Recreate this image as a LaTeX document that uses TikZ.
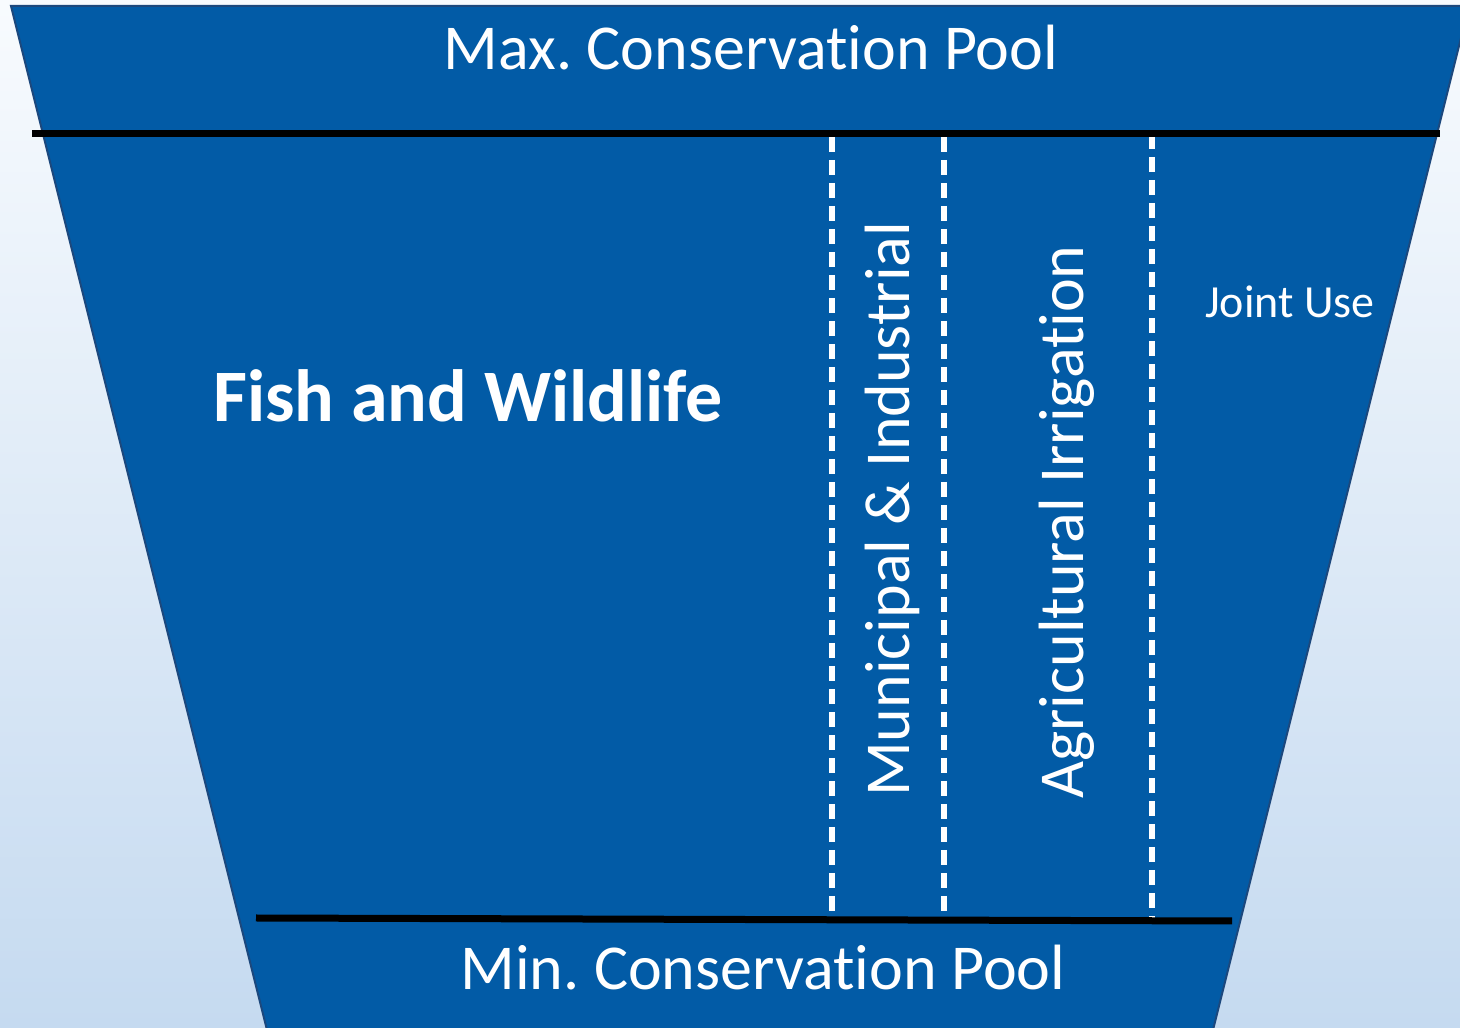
\documentclass[tikz,border=0pt]{standalone}
\usepackage{fontspec}
\setmainfont{Carlito}[Ligatures={NoCommon}]
\definecolor{poolblue}{RGB}{2,91,166}
\definecolor{edgeblue}{RGB}{28,72,125}
\definecolor{bgtop}{RGB}{248,251,254}
\definecolor{bgbot}{RGB}{197,218,240}
\frenchspacing
\begin{document}
\begin{tikzpicture}[x=1pt,y=1pt,
  txt/.style={text=white, inner sep=0pt},
  bigtxt/.style={txt, font=\fontsize{64}{70}\selectfont},
  level/.style={draw=black, line width=7pt},
  divider/.style={draw=white, line width=5.5pt, dash pattern=on 15pt off 8pt}]
\useasboundingbox (0,0) rectangle (1460,1028);
\shade[top color=bgtop, bottom color=bgbot] (0,0) rectangle (1460,1028);
% reservoir body
\draw[edgeblue, line width=2pt, fill=poolblue] (11,1022) -- (1469,1022) -- (1213,-2) -- (267,-2) -- cycle;
% level lines
\coordinate (maxL) at (32,894);
\coordinate (maxR) at (1440,894);
\coordinate (minL) at (256,110);
\coordinate (minR) at (1232,107);
% dividers
\coordinate (d1t) at (832,891); \coordinate (d1b) at (832,111);
\coordinate (d2t) at (944,891); \coordinate (d2b) at (944,110);
\coordinate (d3t) at (1152,894); \coordinate (d3b) at (1152,108);
\draw[divider] (d1t) -- (d1b);
\draw[divider] (d2t) -- (d2b);
\draw[divider] (d3t) -- (d3b);
\draw[level] (maxL) -- (maxR);
\draw[level] (minL) -- (minR);
% labels
\node[bigtxt, anchor=base] (maxpool) at (751,958) {Max. Conservation Pool};
\node[bigtxt, anchor=base] (minpool) at (763,38) {Min. Conservation Pool};
\node[txt, anchor=base, font=\fontsize{74}{80}\selectfont\bfseries] (fish) at (468,606) {Fish and Wildlife};
\node[bigtxt, anchor=base west, rotate=90] (mi) at (909,231) {Municipal \& Industrial};
\node[bigtxt, anchor=base west, rotate=90] (ai) at (1083,229) {Agricultural Irrigation};
\node[txt, anchor=base, font=\fontsize{46}{50}\selectfont] (joint) at (1290,710) {Joint Use};
\end{tikzpicture}
\end{document}
